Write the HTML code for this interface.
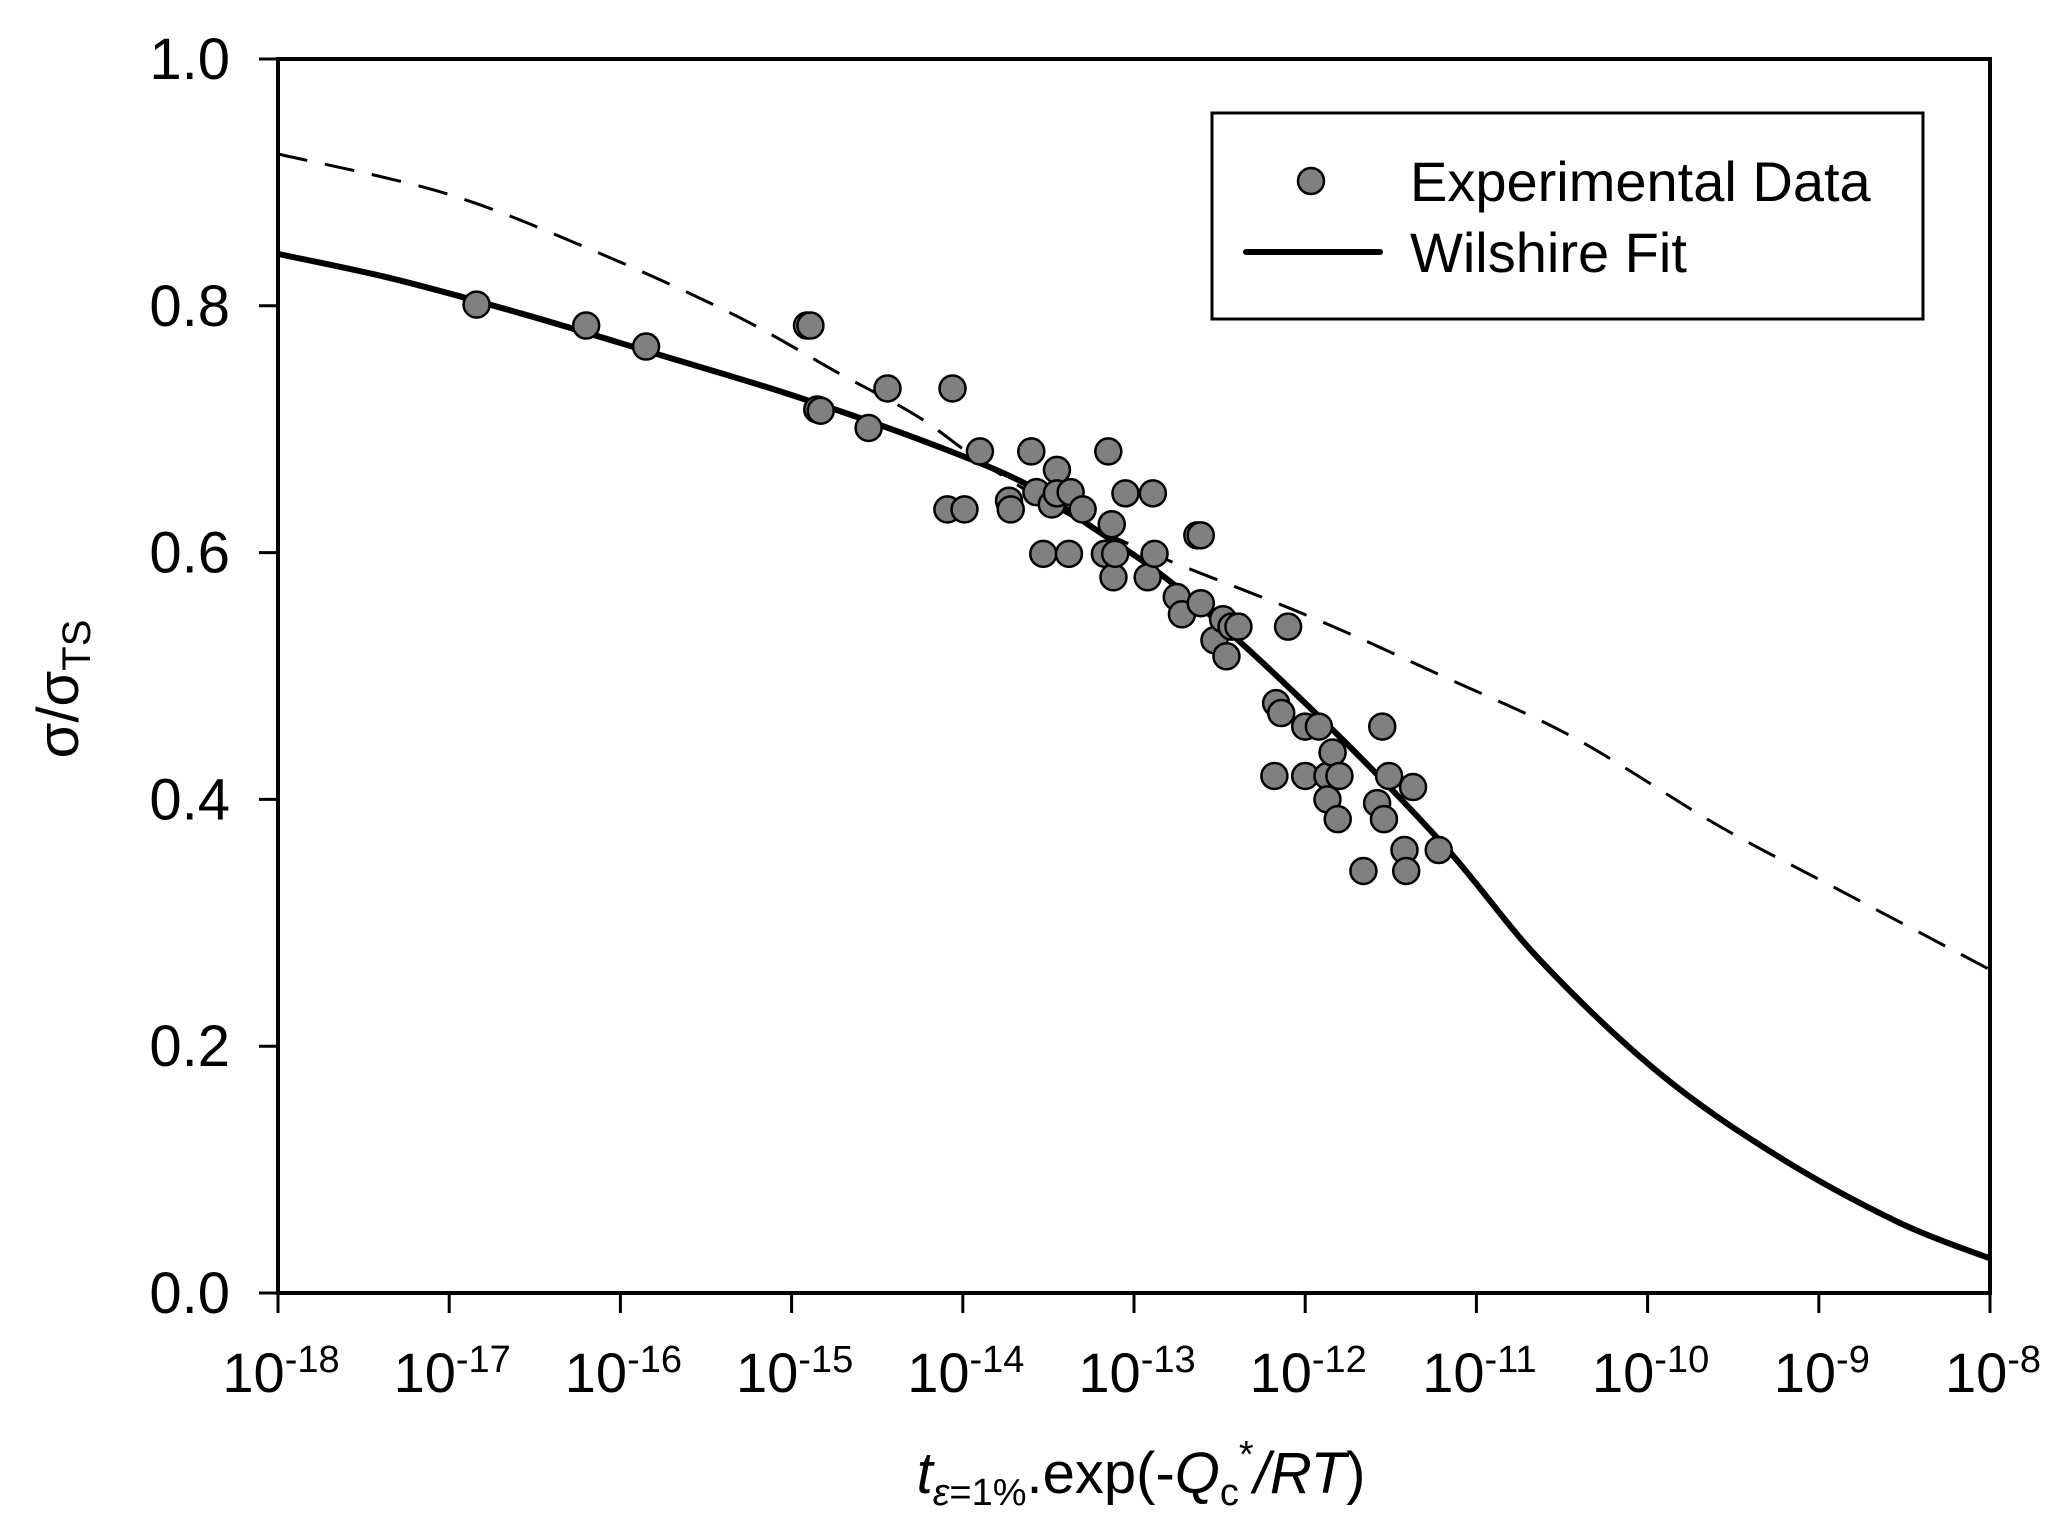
<!DOCTYPE html>
<html><head><meta charset="utf-8">
<style>
html,body{margin:0;padding:0;background:#fff;}
svg{display:block;font-family:"Liberation Sans",Arial,sans-serif;}
</style></head>
<body>
<svg id="chart" width="2057" height="1522" viewBox="0 0 2057 1522" xmlns="http://www.w3.org/2000/svg">
<rect width="2057" height="1522" fill="#fff"/>
<g id="curves"></g>
<g id="points"></g>
<g id="axes"></g>
<g id="legend">
  <rect x="1212" y="113" width="711" height="206" fill="#fff" stroke="#000" stroke-width="3"/>
  <circle cx="1311" cy="181" r="13" fill="#808080" stroke="#000" stroke-width="2.5"/>
  <text x="1410" y="201" font-size="56">Experimental Data</text>
  <line x1="1246" y1="252" x2="1380" y2="252" stroke="#000" stroke-width="6" stroke-linecap="round"/>
  <text x="1410" y="272" font-size="56">Wilshire Fit</text>
</g>
<text x="1141" y="1493" font-size="58" text-anchor="middle"><tspan font-style="italic">t</tspan><tspan font-size="38" dy="12" font-style="italic">ε</tspan><tspan font-size="38">=1%</tspan><tspan dy="-12">.exp(-</tspan><tspan font-style="italic">Q</tspan><tspan font-size="38" dy="12">c</tspan><tspan font-size="38" dy="-38">*</tspan><tspan dy="26" font-style="italic">/RT</tspan><tspan>)</tspan></text>
<text transform="translate(78,689) rotate(-90)" font-size="58" text-anchor="middle">σ/σ<tspan font-size="40" dy="12">TS</tspan></text>
</svg>
<script>
const xExp = [-16.84,-16.20,-15.85,-14.91,-14.89,-14.85,-14.83,-14.55,-14.44,-14.06,-14.09,-13.99,-13.90,-13.73,-13.72,-13.60,-13.57,-13.53,-13.48,-13.45,-13.45,-13.37,-13.38,-13.30,-13.15,-13.13,-13.17,-13.12,-13.11,-13.05,-12.92,-12.89,-12.88,-12.75,-12.72,-12.63,-12.61,-12.61,-12.53,-12.48,-12.46,-12.43,-12.39,-12.10,-12.17,-12.14,-12.00,-11.92,-12.18,-12.00,-11.87,-11.84,-11.80,-11.87,-11.81,-11.66,-11.58,-11.55,-11.54,-11.51,-11.42,-11.41,-11.37,-11.22];
const yVal = [0.801,0.784,0.767,0.784,0.784,0.716,0.715,0.701,0.733,0.733,0.635,0.635,0.682,0.642,0.635,0.682,0.649,0.599,0.639,0.667,0.648,0.649,0.599,0.635,0.682,0.623,0.599,0.580,0.599,0.648,0.580,0.648,0.599,0.564,0.550,0.614,0.614,0.559,0.529,0.546,0.516,0.540,0.540,0.540,0.478,0.470,0.459,0.459,0.419,0.419,0.419,0.438,0.419,0.400,0.384,0.342,0.397,0.459,0.384,0.419,0.359,0.342,0.410,0.359];
const fitX = [-18,-17.33,-16.56,-15.79,-15.03,-14.26,-13.65,-13.27,-12.73,-11.97,-11.21,-10.63,-9.93,-9.23,-8.53,-8];
const fitY = [0.842,0.822,0.793,0.761,0.729,0.692,0.657,0.623,0.570,0.474,0.366,0.270,0.178,0.110,0.057,0.028];
const dashX = [-18,-17.02,-16.18,-15.34,-14.72,-14.26,-13.80,-13.11,-11.97,-11.20,-10.43,-9.59,-8.90,-8];
const dashY = [0.923,0.891,0.846,0.793,0.745,0.710,0.665,0.612,0.548,0.500,0.450,0.379,0.328,0.262];
const xTickExp = [-18,-17,-16,-15,-14,-13,-12,-11,-10,-9,-8];
const yTicks = [0,0.2,0.4,0.6,0.8,1.0];
const yTickLabels = ["0.0","0.2","0.4","0.6","0.8","1.0"];

const L=278,R=1990,T=59,B=1293;
const NS="http://www.w3.org/2000/svg";
function sx(e){return L+(e+18)/10*(R-L);}
function sy(v){return B-v*(B-T);}
function mk(tag,attrs,parent){const el=document.createElementNS(NS,tag);for(const k in attrs)el.setAttribute(k,attrs[k]);parent.appendChild(el);return el;}
function smoothPath(xs,ys){
  const p=xs.map((x,i)=>[sx(x),sy(ys[i])]);
  let d="M"+p[0][0]+","+p[0][1];
  for(let i=0;i<p.length-1;i++){
    const p0=p[Math.max(0,i-1)],p1=p[i],p2=p[i+1],p3=p[Math.min(p.length-1,i+2)];
    const c1=[p1[0]+(p2[0]-p0[0])/6,p1[1]+(p2[1]-p0[1])/6];
    const c2=[p2[0]-(p3[0]-p1[0])/6,p2[1]-(p3[1]-p1[1])/6];
    d+=" C"+c1[0]+","+c1[1]+" "+c2[0]+","+c2[1]+" "+p2[0]+","+p2[1];
  }
  return d;
}
const curves=document.getElementById('curves');
const dash=mk('path',{d:smoothPath(dashX,dashY),fill:'none',stroke:'#000','stroke-width':3,'stroke-dasharray':'30 18'},curves);


const fit=mk('path',{d:smoothPath(fitX,fitY),fill:'none',stroke:'#000','stroke-width':6},curves);



const pts=document.getElementById('points');
xExp.forEach((e,i)=>{
  const c=mk('circle',{cx:sx(e),cy:sy(yVal[i]),r:13,fill:'#808080',stroke:'#000','stroke-width':2.5},pts);
  
  
});

const axes=document.getElementById('axes');
const frame=mk('rect',{x:L,y:T,width:R-L,height:B-T,fill:'none',stroke:'#000','stroke-width':4},axes);


xTickExp.forEach(e=>{
  const x=sx(e);
  const t=mk('line',{x1:x,y1:B,x2:x,y2:B+20,stroke:'#000','stroke-width':3},axes);
  
  
  const lab=mk('text',{x:x+3,y:1392,'font-size':56,'text-anchor':'middle'},axes);
  
  
  const a=document.createElementNS(NS,'tspan');a.textContent='10';lab.appendChild(a);
  const b=document.createElementNS(NS,'tspan');b.setAttribute('font-size','38');b.setAttribute('dy','-20');b.textContent=String(e);lab.appendChild(b);
});
yTicks.forEach((v,i)=>{
  const y=sy(v);
  const t=mk('line',{x1:L-19,y1:y,x2:L,y2:y,stroke:'#000','stroke-width':3},axes);
  
  
  const lab=mk('text',{x:230,y:y+20,'font-size':58,'text-anchor':'end'},axes);
  
  
  lab.textContent=yTickLabels[i];
});
</script>
</body></html>
